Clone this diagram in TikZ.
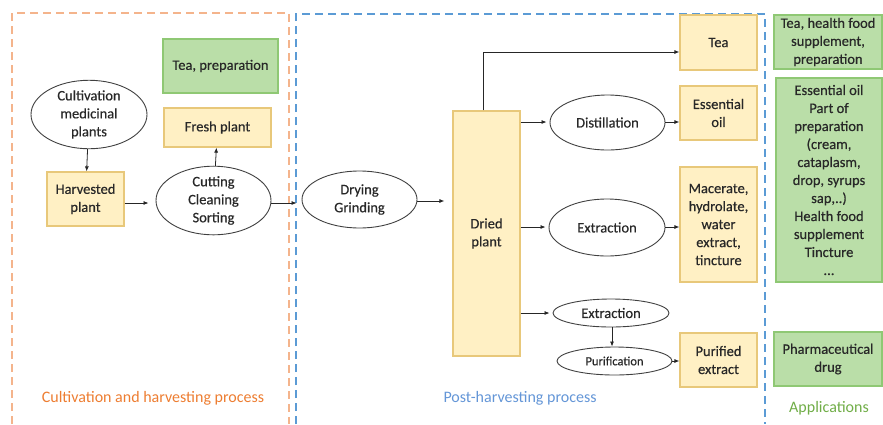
\documentclass[tikz,border=0pt]{standalone}
\usepackage{fontspec}
\setmainfont{Carlito}
\newfontfamily\semif[FakeBold=0.45]{Carlito}
\usetikzlibrary{shapes.geometric,arrows.meta}
\definecolor{yfill}{RGB}{255,240,196}
\definecolor{ybord}{RGB}{232,200,122}
\definecolor{gfill}{RGB}{186,222,168}
\definecolor{gbord}{RGB}{143,200,116}
\definecolor{txt}{RGB}{40,40,40}
\definecolor{odash}{RGB}{244,180,140}
\definecolor{bdash}{RGB}{91,155,213}
\definecolor{olab}{RGB}{237,125,49}
\definecolor{blab}{RGB}{100,150,215}
\definecolor{glab}{RGB}{112,173,71}
\begin{document}
\begin{tikzpicture}[x=1pt,y=-1pt,
  every node/.style={text=txt,font=\semif\fontsize{14.5}{18}\selectfont,align=center,inner sep=0pt},
  ybox/.style={draw=ybord,fill=yfill,line width=1.2pt,rectangle},
  gbox/.style={draw=gbord,fill=gfill,line width=1.2pt,rectangle},
  oval/.style={draw=black!75,line width=0.9pt,ellipse},
  arr/.style={-{Latex[length=5pt,width=4pt]},line width=0.8pt,black!85},
  dsh/.style={line width=1.6pt,dash pattern=on 8pt off 5pt},
  lab/.style={font=\fontsize{16}{19}\selectfont}]
\useasboundingbox (0,0) rectangle (883,424);
% dashed regions
\draw[dsh,odash] (12,424) -- (12,13) -- (289,13) -- (289,424);
\draw[dsh,bdash] (296,424) -- (296,14) -- (765,14) -- (765,424);
% cultivation
\node[gbox,minimum width=115pt,minimum height=54pt] (tp) at (220.5,66) {Tea, preparation};
\node[ybox,minimum width=107pt,minimum height=39pt] (fresh) at (217.5,127.5) {Fresh plant};
\node[oval,minimum width=116pt,minimum height=57pt] (cult) at (89,114.5) {Cultivation\\medicinal\\plants};
\node[ybox,minimum width=77pt,minimum height=54pt] (harv) at (85.5,199) {Harvested\\plant};
\node[oval,minimum width=115pt,minimum height=57pt] (cut) at (213.5,200.5) {Cutting\\Cleaning\\Sorting};
% post-harvesting
\node[oval,minimum width=115pt,minimum height=57pt] (dry) at (359.5,199.5) {Drying\\Grinding};
\node[ybox,minimum width=67pt,minimum height=245pt] (dried) at (486.5,233.5) {Dried\\plant};
\node[ybox,minimum width=77pt,minimum height=55pt] (tea) at (718.5,42.5) {Tea};
\node[oval,minimum width=115pt,minimum height=55pt] (dist) at (607.5,122.5) {Distillation};
\node[ybox,minimum width=77pt,minimum height=54pt] (eoil) at (718.5,113) {Essential\\oil};
\node[oval,minimum width=116pt,minimum height=57pt] (ext) at (607,227.5) {Extraction};
\node[ybox,minimum width=77pt,minimum height=115pt] (mac) at (718.5,224.5) {Macerate,\\hydrolate,\\water\\extract,\\tincture};
\node[oval,minimum width=116pt,minimum height=28pt] (ext2) at (611,313) {Extraction};
\node[oval,minimum width=115pt,minimum height=28pt,font=\semif\fontsize{12.5}{15}\selectfont] (pur) at (614.5,361) {Purification};
\node[ybox,minimum width=77pt,minimum height=54pt] (purext) at (718.5,360) {Purified\\extract};
% applications
\node[gbox,minimum width=108pt,minimum height=54pt] (app1) at (828,42) {Tea, health food\\supplement,\\preparation};
\node[gbox,minimum width=106pt,minimum height=204pt] (app2) at (829,180) {Essential oil\\Part of\\preparation\\(cream,\\cataplasm,\\drop, syrups\\sap,..)\\Health food\\supplement\\Tincture\\...};
\node[gbox,minimum width=108pt,minimum height=54pt] (app3) at (828,359) {Pharmaceutical\\drug};
% labels
\node[lab,text=olab] (l1) at (153,398) {Cultivation and harvesting process};
\node[lab,text=blab] (l2) at (520,398) {Post-harvesting process};
\node[lab,text=glab] (l3) at (829,408) {Applications};
% arrows
\draw[arr] (cult) -- (harv);
\draw[arr,shorten >=7pt] (harv.east |- 0,203) -- (cut.west |- 0,203);
\draw[arr] (cut) -- (fresh);
\draw[arr,shorten >=5pt] (cut.east |- 0,203) -- (dry.west |- 0,203);
\draw[arr,shorten >=8pt] (dry.east |- 0,201) -- (dried.west |- 0,201);
\draw[arr] (dried.north -| 483,0) -- (483,52) -- (tea.west |- 0,52);
\draw[arr,shorten >=3pt] (dried.east |- 0,122) -- (dist.west |- 0,122);
\draw[arr] (dist.east |- 0,122) -- (eoil.west |- 0,122);
\draw[arr,shorten >=3pt] (dried.east |- 0,227) -- (ext.west |- 0,227);
\draw[arr] (ext.east |- 0,227) -- (mac.west |- 0,227);
\draw[arr,shorten >=3pt] (dried.east |- 0,313) -- (ext2.west |- 0,313);
\draw[arr] (ext2.south -| 612,0) -- (pur.north -| 612,0);
\draw[arr] (pur.east |- 0,361) -- (purext.west |- 0,361);
\end{tikzpicture}
\end{document}
